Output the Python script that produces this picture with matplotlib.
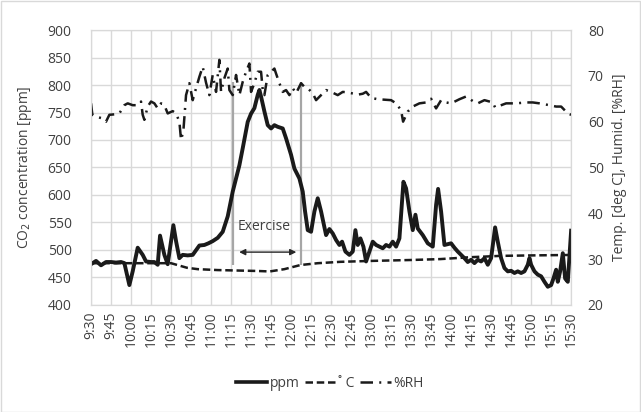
import numpy as np
import matplotlib.pyplot as plt
from matplotlib.lines import Line2D

plt.rcParams["font.family"] = ["Open Sans", "DejaVu Sans"]
plt.rcParams["font.size"] = 10

# minutes after 9:30
ppm_t = [0, 3.75, 7.5, 11.25, 15, 18.75, 22.5, 25, 28.75, 31.25, 35, 38.75, 41.25, 45, 47.5, 50,
         51.75, 55, 57.5, 61.75, 63.75, 66.25, 68.75, 72.5, 76.25, 81.25, 85, 88, 91.25, 95, 98.75,
         102.5, 106.25, 108.75, 111.25, 113.75, 117.5, 120, 122.5, 125, 126.25, 127.5, 130, 132.5,
         135, 137.5, 140, 143.75, 146.25, 150, 152.5, 156.25, 158.75, 160.5, 162.5, 165, 167.5, 170,
         172.5, 176.25, 178.75, 181.25, 183.75, 186.25, 188.25, 190.75, 193.75, 196.25, 198.25, 200,
         202, 204.25, 206.25, 208.75, 211.25, 213.75, 216.25, 218.75, 221.25, 223.75, 226.25, 228.75,
         231.25, 234.25, 236.25, 238.75, 241.25, 243.25, 245, 248.75, 252.5, 256.25, 258.75, 260.25,
         262.5, 265, 270, 272.5, 275, 277.5, 280, 282.5, 285, 287.5, 290, 292.5, 295, 297.5, 300, 303,
         305, 307.5, 310, 312.5, 315, 317.5, 320, 322.5, 325, 327.5, 328.75, 330, 332.5, 335, 337.5,
         340, 342.5, 345, 346.75, 348.75, 350, 351.75, 353.75, 355.5, 357.5, 360]
ppm = [474, 480, 472, 478, 478, 477, 478, 476, 436, 461, 504, 491, 479, 478, 478, 473,
       526, 491, 474, 545, 516, 485, 491, 490, 491, 508, 509, 512, 516, 522, 533,
       561, 606, 630, 654, 685, 733, 748, 758, 782, 791, 779, 752, 727,
       721, 727, 724, 721, 703, 673, 648, 630, 606, 570, 536, 533, 570, 594,
       570, 527, 538, 530, 518, 509, 515, 497, 491, 497, 536, 509,
       521, 506, 479, 497, 515, 509, 506, 503, 509, 506, 515, 506,
       521, 624, 612, 570, 536, 564, 539, 527, 512, 506, 582, 611,
       570, 509, 512, 504, 497, 491, 485, 478, 482, 476, 482, 479, 485, 473, 485, 541,
       515, 485, 467, 461, 462, 458, 461, 458, 461, 473, 485, 473, 461, 455, 452,
       442, 433, 436, 448, 464, 442, 461, 494, 448, 442, 535]

temp_t = [0, 30, 60, 66, 72, 80, 95, 110, 125, 134, 145, 157, 170, 187, 210, 240, 262, 284, 307, 330, 360]
temp = [29.1, 29.1, 29.1, 28.6, 28.1, 27.8, 27.6, 27.5, 27.4, 27.3, 27.8, 28.7, 29.1, 29.4, 29.6,
        29.8, 30.0, 30.4, 30.7, 30.8, 30.9]

rh_t = [0, 1, 3.75, 7.5, 11.25, 13.75, 17.5, 21.25, 25, 27.5, 31.25, 35, 37.5, 38.75, 40, 42.5, 45,
        47.5, 50, 52.5, 55, 57.5, 61.25, 63.75, 66.25, 67.5, 69.25, 71.25, 73.75, 76.25, 78.75, 81.25,
        83.75, 86.25, 88.75, 91.25, 93.75, 96.25, 97.5, 100, 102.5, 103.75, 106.25, 108.75, 111.25,
        113.75, 116.25, 118.75, 120, 122.5, 125, 127.5, 128.75, 130, 132.5, 135, 137.5, 138.75,
        141.25, 143.75, 146.25, 148.75, 151.25, 153.75, 157.5, 160, 162.5, 166.25, 168.75, 172.5,
        176.25, 180, 185, 188.75, 192.5, 200, 203.75, 206.25, 210, 215, 225, 228.75, 232.5, 234,
        237.5, 241.25, 246.25, 251.25, 255, 258.75, 262.5, 266.25, 270, 276.25, 281.25, 286.25, 290,
        295, 301.25, 303, 311.25, 318.75, 326.25, 331.25, 336.25, 343.75, 348.75, 352.5, 357.5, 360]
rh = [64.0, 61.5, 61.1, 60.8, 60.0, 61.5, 61.6, 61.8, 63.6, 64.0, 63.6, 63.6, 64.4, 61.5, 60.4, 63.3, 64.4,
      64.0, 62.9, 64.0, 63.6, 61.8, 62.3, 61.8, 60.0, 56.0, 58.0, 65.8, 68.4, 64.7, 67.3, 69.8,
      72.0, 68.5, 65.8, 70.2, 66.5, 73.5, 66.5, 69.5, 71.6, 66.9, 65.8, 70.2, 65.8,
      68.7, 70.9, 72.7, 66.5, 68.4, 70.9, 70.9, 66.9, 65.8, 70.2, 70.9, 71.6, 70.5,
      68.4, 66.5, 66.9, 65.8, 67.3, 66.2, 68.4, 67.6, 67.3, 66.2, 64.7, 65.8,
      66.9, 66.5, 65.8, 66.5, 66.4, 65.9, 66.1, 66.5, 65.2, 64.9, 64.7, 64.0, 62.5, 60.0,
      62.2, 63.3, 64.0, 64.2, 65.0, 62.9, 64.7, 64.2, 64.0, 64.9, 65.5, 64.5, 64.0,
      64.7, 64.2, 63.1, 64.0, 64.0, 64.2, 64.2, 64.0, 63.6, 63.3, 63.3, 61.8, 61.5]

tick_min = np.arange(0, 361, 15)
tick_labels = ["%d:%02d" % ((570 + m) // 60, (570 + m) % 60) for m in tick_min]

fig = plt.figure(figsize=(6.41, 4.12), dpi=100, facecolor="w")
fig.patches.append(plt.Rectangle((0.001, 0.001), 0.997, 0.997, transform=fig.transFigure,
                                 fill=False, edgecolor="#d9d9d9", lw=1))
ax = fig.add_axes([0.142, 0.26, 0.749, 0.667])
ax2 = ax.twinx()

grid_c = "#d9d9d9"
txt_c = "#404040"

ax.plot(ppm_t, ppm, color="#1a1a1a", lw=2.8, solid_joinstyle="round", zorder=5)
ax2.plot(temp_t, temp, color="#1a1a1a", lw=1.8, dashes=(3, 1.5))
ax2.plot(rh_t, rh, color="#1a1a1a", lw=1.8, dashes=(5, 2.5, 0.8, 2.5))

# exercise period markers
ax.vlines([106.5, 157.5], 472, 806, color="#a6a6a6", lw=1.6, zorder=4)
ax.annotate("", xy=(109, 496), xytext=(156, 496),
            arrowprops=dict(arrowstyle="<|-|>", color="#262626", lw=1, mutation_scale=9))
ax.text(130, 542, "Exercise", ha="center", va="center", color=txt_c, fontsize=10)

ax.set_xlim(0, 360)
ax.set_ylim(400, 900)
ax.set_yticks(np.arange(400, 901, 50))
ax2.set_ylim(20, 80)
ax2.set_yticks(np.arange(20, 81, 10))
ax.set_xticks(tick_min)
ax.set_xticklabels(tick_labels, rotation=90)

ax.grid(True, color=grid_c, lw=1)
ax.set_axisbelow(True)
for a in (ax, ax2):
    for s in a.spines.values():
        s.set_color(grid_c)
    a.tick_params(length=0, colors=txt_c, labelsize=10)
ax.tick_params(axis="y", pad=14)
ax.tick_params(axis="x", pad=5)
ax2.tick_params(axis="y", pad=12)

ax.set_ylabel("CO$_2$ concentration [ppm]", color=txt_c, fontsize=10, labelpad=10)
ax2.set_ylabel("Temp. [deg C], Humid. [%RH]", color=txt_c, fontsize=10, labelpad=6)

handles = [Line2D([], [], color="#1a1a1a", lw=2.6),
           Line2D([], [], color="#1a1a1a", lw=1.8, dashes=(3, 1.5)),
           Line2D([], [], color="#1a1a1a", lw=1.8, dashes=(5, 2.5, 0.8, 2.5))]
fig.legend(handles, ["ppm", "˚ C", "%RH"], loc="center", bbox_to_anchor=(0.515, 0.07),
           ncol=3, frameon=False, handlelength=2.2, handletextpad=0.2, columnspacing=0.4,
           labelcolor=txt_c, fontsize=10)

plt.savefig("out.png", dpi=100)
